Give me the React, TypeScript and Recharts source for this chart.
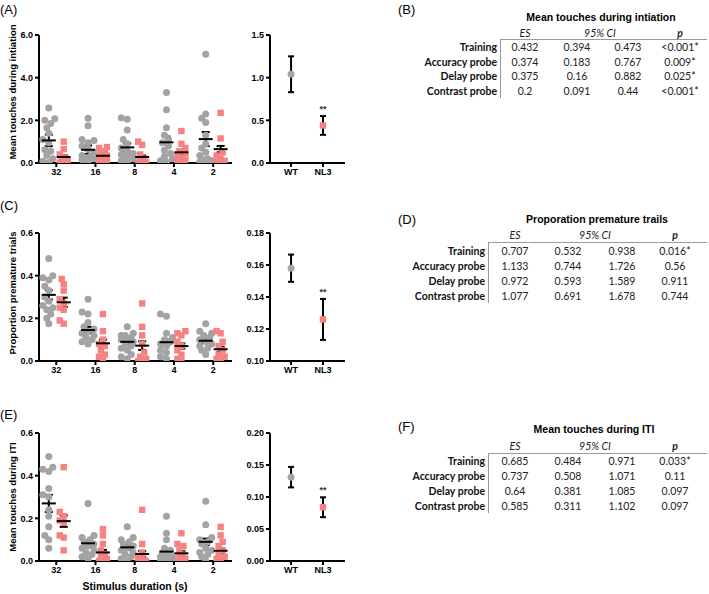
import React from "react";
import { ScatterChart, Scatter, XAxis, YAxis, ErrorBar } from "recharts";

const durations = ["32", "16", "8", "4", "2"];
const genotypes = ["WT", "NL3"];
const probes = ["Training", "Accuracy probe", "Delay probe", "Contrast probe"];

// (A) mean touches during initiation, per animal
const initWt = [
  [2.58, 2.08, 2.0, 1.85, 1.65, 1.4, 1.1, 0.95, 0.62, 0.55, 0.35, 0.2, 0.08, 0.02],
  [2.1, 1.75, 1.1, 1.05, 0.95, 0.8, 0.65, 0.5, 0.35, 0.25, 0.15, 0.05, 0.3, 0.2],
  [2.05, 2.12, 1.55, 1.1, 0.9, 0.7, 0.55, 0.45, 0.3, 0.2, 0.1, 0.05, 0.25, 0.4],
  [3.3, 2.5, 1.65, 1.3, 1.1, 0.95, 0.8, 0.6, 0.45, 0.3, 0.2, 0.1, 0.05],
  [5.1, 2.3, 2.1, 1.9, 1.3, 0.9, 0.7, 0.5, 0.35, 0.2, 0.15, 0.05, 0.1, 0.0],
];
const initNl3 = [
  [1.0, 0.65, 0.4, 0.25, 0.15, 0.08, 0.02, 0.0],
  [0.75, 0.7, 0.55, 0.45, 0.35, 0.25, 0.15, 0.1, 0.05, 0.0],
  [1.0, 0.85, 0.4, 0.2, 0.1, 0.05, 0.0, 0.0],
  [1.5, 0.9, 0.7, 0.55, 0.45, 0.35, 0.25, 0.15, 0.1, 0.05],
  [2.35, 1.15, 0.5, 0.35, 0.2, 0.1, 0.05, 0.0],
];
const initWtMean = [1.06, 0.62, 0.73, 0.97, 1.12];
const initWtSem = [0.27, 0.2, 0.19, 0.27, 0.33];
const initNl3Mean = [0.28, 0.34, 0.28, 0.5, 0.65];
const initNl3Sem = [0.08, 0.07, 0.07, 0.09, 0.15];
const initAllMean = [1.04, 0.44];
const initAllSem = [0.21, 0.11];

// (C) proportion premature trials
const premWt = [
  [0.48, 0.39, 0.38, 0.35, 0.33, 0.3, 0.28, 0.26, 0.25, 0.24, 0.22, 0.2, 0.175, 0.4],
  [0.29, 0.23, 0.22, 0.18, 0.16, 0.15, 0.14, 0.13, 0.12, 0.11, 0.1, 0.09, 0.08],
  [0.16, 0.13, 0.12, 0.11, 0.1, 0.09, 0.08, 0.07, 0.06, 0.05, 0.03, 0.02, 0.01, 0.1, 0.12],
  [0.22, 0.21, 0.13, 0.11, 0.1, 0.09, 0.08, 0.07, 0.05, 0.04, 0.02, 0.01],
  [0.175, 0.14, 0.13, 0.12, 0.11, 0.1, 0.09, 0.08, 0.07, 0.06, 0.05, 0.03],
];
const premNl3 = [
  [0.385, 0.36, 0.33, 0.29, 0.27, 0.25, 0.24, 0.19, 0.175],
  [0.22, 0.14, 0.1, 0.08, 0.07, 0.05, 0.03, 0.02, 0.0],
  [0.27, 0.16, 0.12, 0.08, 0.04, 0.02, 0.01, 0.0, 0.0],
  [0.14, 0.13, 0.12, 0.09, 0.07, 0.05, 0.03, 0.01, 0.0],
  [0.14, 0.13, 0.09, 0.07, 0.05, 0.03, 0.02, 0.01, 0.0],
];
const premWtMean = [0.31, 0.145, 0.09, 0.088, 0.095];
const premWtSem = [0.022, 0.015, 0.01, 0.012, 0.01];
const premNl3Mean = [0.275, 0.083, 0.072, 0.07, 0.055];
const premNl3Sem = [0.022, 0.017, 0.02, 0.012, 0.012];
const premAllMean = [0.158, 0.126];
const premAllSem = [0.0085, 0.0128];

// (E) mean touches during ITI
const itiWt = [
  [0.49, 0.44, 0.43, 0.42, 0.34, 0.31, 0.3, 0.24, 0.21, 0.16, 0.12, 0.1, 0.06],
  [0.27, 0.12, 0.11, 0.1, 0.09, 0.08, 0.07, 0.06, 0.05, 0.04, 0.03, 0.02, 0.01],
  [0.16, 0.11, 0.1, 0.09, 0.08, 0.07, 0.06, 0.05, 0.04, 0.03, 0.02, 0.01, 0.0],
  [0.21, 0.13, 0.1, 0.06, 0.05, 0.04, 0.03, 0.02, 0.01, 0.0, 0.0, 0.0, 0.01, 0.02],
  [0.28, 0.17, 0.11, 0.1, 0.09, 0.08, 0.06, 0.05, 0.04, 0.03, 0.02, 0.0],
];
const itiNl3 = [
  [0.44, 0.23, 0.21, 0.19, 0.18, 0.12, 0.11, 0.05],
  [0.15, 0.12, 0.08, 0.05, 0.03, 0.02, 0.01, 0.0, 0.0],
  [0.24, 0.08, 0.04, 0.02, 0.01, 0.0, 0.0, 0.0, 0.0, 0.0, 0.0],
  [0.13, 0.08, 0.07, 0.05, 0.03, 0.02, 0.01, 0.0, 0.0],
  [0.16, 0.12, 0.09, 0.07, 0.05, 0.03, 0.02, 0.01, 0.0],
];
const itiWtMean = [0.27, 0.083, 0.064, 0.044, 0.09];
const itiWtSem = [0.04, 0.015, 0.012, 0.013, 0.015];
const itiNl3Mean = [0.187, 0.04, 0.033, 0.036, 0.048];
const itiNl3Sem = [0.027, 0.012, 0.014, 0.01, 0.012];
const itiAllMean = [0.131, 0.084];
const itiAllSem = [0.016, 0.0155];

// effect size tables
const initEs = ["0.432", "0.374", "0.375", "0.2"];
const initLo = ["0.394", "0.183", "0.16", "0.091"];
const initHi = ["0.473", "0.767", "0.882", "0.44"];
const initP = ["<0.001*", "0.009*", "0.025*", "<0.001*"];

const premEs = ["0.707", "1.133", "0.972", "1.077"];
const premLo = ["0.532", "0.744", "0.593", "0.691"];
const premHi = ["0.938", "1.726", "1.589", "1.678"];
const premP = ["0.016*", "0.56", "0.911", "0.744"];

const itiEs = ["0.685", "0.737", "0.64", "0.585"];
const itiLo = ["0.484", "0.508", "0.381", "0.311"];
const itiHi = ["0.971", "1.071", "1.085", "1.102"];
const itiP = ["0.033*", "0.11", "0.097", "0.097"];

const GREY = "#a3a3a3";
const RED = "#f78080";
const AXIS_FONT = "'Liberation Sans', Arial, sans-serif";
const TABLE_FONT = "Lato, 'Open Sans', sans-serif";

// spread points sideways where they would overlap (returns px offsets)
function swarm(values: number[], pxPerUnit: number, diam: number, maxOff: number) {
  const order = values.map((_, i) => i).sort((a, b) => values[a] - values[b]);
  const placed: { x: number; y: number }[] = [];
  const out: number[] = new Array(values.length).fill(0);
  const cands = [0];
  for (let s = 1; s * 2 <= maxOff; s++) cands.push(-s * 2, s * 2);
  for (const i of order) {
    const y = values[i] * pxPerUnit;
    let best = 0;
    let bestD = -1;
    for (const c of cands) {
      let d = Infinity;
      for (const p of placed) d = Math.min(d, Math.hypot(p.x - c, p.y - y));
      if (d >= diam) { best = c; bestD = d; break; }
      if (d > bestD) { bestD = d; best = c; }
    }
    placed.push({ x: best, y });
    out[i] = best;
  }
  return out;
}

const GreyDot = (p: any) => <circle cx={p.cx} cy={p.cy} r={3.5} fill={GREY} />;
const RedSquare = (p: any) => <rect x={p.cx - 3.2} y={p.cy - 3.2} width={6.4} height={6.4} fill={RED} />;
const MeanLine = (p: any) => (
  <line x1={p.cx - 7} x2={p.cx + 7} y1={p.cy} y2={p.cy} stroke="#000" strokeWidth={2} />
);
const Stars = (p: any) => (
  <text x={p.cx} y={p.cy - 4} textAnchor="middle" fontSize={9} fontWeight="bold" fontFamily={AXIS_FONT} fill="#333">
    **
  </text>
);

const axisLine = { stroke: "#000", strokeWidth: 2 };
const tickStyle = { fill: "#000", fontSize: 9, fontWeight: "bold", fontFamily: AXIS_FONT };

function GroupPanel(props: {
  top: number; yMax: number; yTicks: number[]; digits: number;
  wt: number[][]; nl3: number[][];
  wtMean: number[]; wtSem: number[]; nl3Mean: number[]; nl3Sem: number[];
}) {
  const { top, yMax, yTicks, digits, wt, nl3, wtMean, wtSem, nl3Mean, nl3Sem } = props;
  const pxY = 128 / yMax;
  const pxX = 39.25;
  const wtPts = wt.flatMap((vals, i) => {
    const offs = swarm(vals, pxY, 5.5, 6);
    return vals.map((v, j) => ({ x: i + 1 - 0.19 + offs[j] / pxX, y: v }));
  });
  const nl3Pts = nl3.flatMap((vals, i) => {
    const offs = swarm(vals, pxY, 5.5, 5);
    return vals.map((v, j) => ({ x: i + 1 + 0.19 + offs[j] / pxX, y: v }));
  });
  const means = [
    ...wtMean.map((m, i) => ({ x: i + 1 - 0.19, y: m, err: wtSem[i] })),
    ...nl3Mean.map((m, i) => ({ x: i + 1 + 0.19, y: m, err: nl3Sem[i] })),
  ];
  return (
    <div style={{ position: "absolute", left: 0, top, width: 240, height: 185 }}>
      <ScatterChart width={240} height={185} margin={{ top: 35, right: 8, bottom: 2, left: 0 }}>
        <XAxis type="number" dataKey="x" domain={[0.56, 5.48]} ticks={[1, 2, 3, 4, 5]}
          tickFormatter={(v: number) => durations[v - 1]} height={20} allowDataOverflow
          axisLine={axisLine} tickLine={axisLine} tickSize={4} tick={tickStyle} />
        <YAxis type="number" dataKey="y" domain={[0, yMax]} ticks={yTicks} width={39} allowDataOverflow
          tickFormatter={(v: number) => v.toFixed(digits)}
          axisLine={axisLine} tickLine={axisLine} tickSize={4} tick={tickStyle} />
        <Scatter data={wtPts} shape={GreyDot} isAnimationActive={false} />
        <Scatter data={nl3Pts} shape={RedSquare} isAnimationActive={false} />
        <Scatter data={means} shape={MeanLine} isAnimationActive={false}>
          <ErrorBar dataKey="err" direction="y" width={4} stroke="#000" strokeWidth={2} isAnimationActive={false} />
        </Scatter>
      </ScatterChart>
    </div>
  );
}

function OverallPanel(props: {
  top: number; yMin: number; yMax: number; yTicks: number[]; digits: number;
  mean: number[]; sem: number[];
}) {
  const { top, yMin, yMax, yTicks, digits, mean, sem } = props;
  const wtPt = [{ x: 1, y: mean[0], err: sem[0] }];
  const nl3Pt = [{ x: 2, y: mean[1], err: sem[1] }];
  const star = [{ x: 2, y: mean[1] + sem[1] }];
  return (
    <div style={{ position: "absolute", left: 230, top, width: 120, height: 185 }}>
      <ScatterChart width={120} height={185} margin={{ top: 35, right: 5, bottom: 2, left: 0 }}>
        <XAxis type="number" dataKey="x" domain={[0.34, 2.69]} ticks={[1, 2]}
          tickFormatter={(v: number) => genotypes[v - 1]} height={20}
          axisLine={axisLine} tickLine={axisLine} tickSize={4} tick={tickStyle} />
        <YAxis type="number" dataKey="y" domain={[yMin, yMax]} ticks={yTicks} width={40}
          tickFormatter={(v: number) => v.toFixed(digits)}
          axisLine={axisLine} tickLine={axisLine} tickSize={4} tick={tickStyle} />
        <Scatter data={wtPt} shape={GreyDot} isAnimationActive={false}>
          <ErrorBar dataKey="err" direction="y" width={3} stroke="#000" strokeWidth={2} isAnimationActive={false} />
        </Scatter>
        <Scatter data={nl3Pt} shape={RedSquare} isAnimationActive={false}>
          <ErrorBar dataKey="err" direction="y" width={3} stroke="#000" strokeWidth={2} isAnimationActive={false} />
        </Scatter>
        <Scatter data={star} shape={Stars} isAnimationActive={false} />
      </ScatterChart>
    </div>
  );
}

const abs = (x: number, y: number, tx: string, extra: React.CSSProperties = {}): React.CSSProperties => ({
  position: "absolute", left: x, top: y, transform: tx, whiteSpace: "nowrap", lineHeight: 1, ...extra,
});

function EsTable(props: {
  title: string; es: string[]; lo: string[]; hi: string[]; p: string[];
  titleX: number; titleY: number; headerY: number; lineY: number; rowY: number; gap: number;
  vx: number; cols: number[]; ciX: number;
}) {
  const { title, es, lo, hi, p, titleX, titleY, headerY, lineY, rowY, gap, vx, cols, ciX } = props;
  const cell: React.CSSProperties = { fontFamily: TABLE_FONT, fontSize: 10.5, color: "#222" };
  const center = "translate(-50%, -50%)";
  return (
    <>
      <div style={abs(titleX, titleY, center, { fontFamily: AXIS_FONT, fontWeight: "bold", fontSize: 10.5, color: "#000" })}>{title}</div>
      <div style={abs(cols[0], headerY, center, { ...cell, fontStyle: "italic" })}>ES</div>
      <div style={abs(ciX, headerY, center, { ...cell, fontStyle: "italic" })}>95% CI</div>
      <div style={abs(cols[3], headerY, center, { ...cell, fontStyle: "italic", fontWeight: "bold" })}>p</div>
      <div style={{ position: "absolute", left: vx, top: lineY, width: 707 - vx, borderTop: "1px solid #9a9a9a" }} />
      <div style={{ position: "absolute", left: vx, top: lineY, height: rowY + gap * 3 + 7 - lineY, borderLeft: "1px solid #9a9a9a" }} />
      {probes.map((name, i) => {
        const y = rowY + gap * i;
        return (
          <React.Fragment key={name}>
            <div style={abs(vx - 3, y, "translate(-100%, -50%)", { ...cell, fontWeight: "bold", color: "#111" })}>{name}</div>
            <div style={abs(cols[0], y, center, cell)}>{es[i]}</div>
            <div style={abs(cols[1], y, center, cell)}>{lo[i]}</div>
            <div style={abs(cols[2], y, center, cell)}>{hi[i]}</div>
            <div style={abs(cols[3], y, center, cell)}>{p[i]}</div>
          </React.Fragment>
        );
      })}
    </>
  );
}

const panelLabel = (text: string, x: number, y: number) => (
  <div style={abs(x, y, "translate(0, -50%)", { fontFamily: AXIS_FONT, fontSize: 13, color: "#000" })}>{text}</div>
);
const yTitle = (text: string, y: number) => (
  <div style={abs(13, y, "translate(-50%, -50%) rotate(-90deg)", { fontFamily: AXIS_FONT, fontSize: 9.5, fontWeight: "bold", color: "#000" })}>{text}</div>
);

export default function App() {
  return (
    <div style={{ position: "absolute", left: 0, top: 0, width: 709, height: 594, background: "#fff", overflow: "hidden" }}>
      {panelLabel("(A)", 0, 9)}
      {panelLabel("(B)", 398, 9)}
      {panelLabel("(C)", 0, 205)}
      {panelLabel("(D)", 398, 219)}
      {panelLabel("(E)", 0, 414)}
      {panelLabel("(F)", 398, 426)}

      {yTitle("Mean touches during  intiation", 92)}
      {yTitle("Proportion premature trials", 293)}
      {yTitle("Mean touches during ITI", 497)}

      <GroupPanel top={0} yMax={6} yTicks={[0, 2, 4, 6]} digits={1}
        wt={initWt} nl3={initNl3} wtMean={initWtMean} wtSem={initWtSem} nl3Mean={initNl3Mean} nl3Sem={initNl3Sem} />
      <GroupPanel top={198} yMax={0.6} yTicks={[0, 0.2, 0.4, 0.6]} digits={1}
        wt={premWt} nl3={premNl3} wtMean={premWtMean} wtSem={premWtSem} nl3Mean={premNl3Mean} nl3Sem={premNl3Sem} />
      <GroupPanel top={398} yMax={0.6} yTicks={[0, 0.2, 0.4, 0.6]} digits={1}
        wt={itiWt} nl3={itiNl3} wtMean={itiWtMean} wtSem={itiWtSem} nl3Mean={itiNl3Mean} nl3Sem={itiNl3Sem} />

      <OverallPanel top={0} yMin={0} yMax={1.5} yTicks={[0, 0.5, 1, 1.5]} digits={1} mean={initAllMean} sem={initAllSem} />
      <OverallPanel top={198} yMin={0.1} yMax={0.18} yTicks={[0.1, 0.12, 0.14, 0.16, 0.18]} digits={2} mean={premAllMean} sem={premAllSem} />
      <OverallPanel top={398} yMin={0} yMax={0.2} yTicks={[0, 0.05, 0.1, 0.15, 0.2]} digits={2} mean={itiAllMean} sem={itiAllSem} />

      <div style={abs(135, 586, "translate(-50%, -50%)", { fontFamily: AXIS_FONT, fontSize: 10.5, fontWeight: "bold", color: "#000" })}>
        Stimulus duration (s)
      </div>

      <EsTable title="Mean touches during intiation" es={initEs} lo={initLo} hi={initHi} p={initP}
        titleX={601} titleY={17} headerY={33} lineY={39} rowY={47} gap={14.7} vx={500} cols={[525, 577, 628, 680]} ciX={600} />
      <EsTable title="Proporation premature trails" es={premEs} lo={premLo} hi={premHi} p={premP}
        titleX={597} titleY={219} headerY={235} lineY={242} rowY={251} gap={15} vx={488} cols={[515, 568, 622, 675]} ciX={595} />
      <EsTable title="Mean touches during ITI" es={itiEs} lo={itiLo} hi={itiHi} p={itiP}
        titleX={594} titleY={429} headerY={446} lineY={453} rowY={461} gap={15} vx={488} cols={[515, 568, 622, 675]} ciX={595} />
    </div>
  );
}
